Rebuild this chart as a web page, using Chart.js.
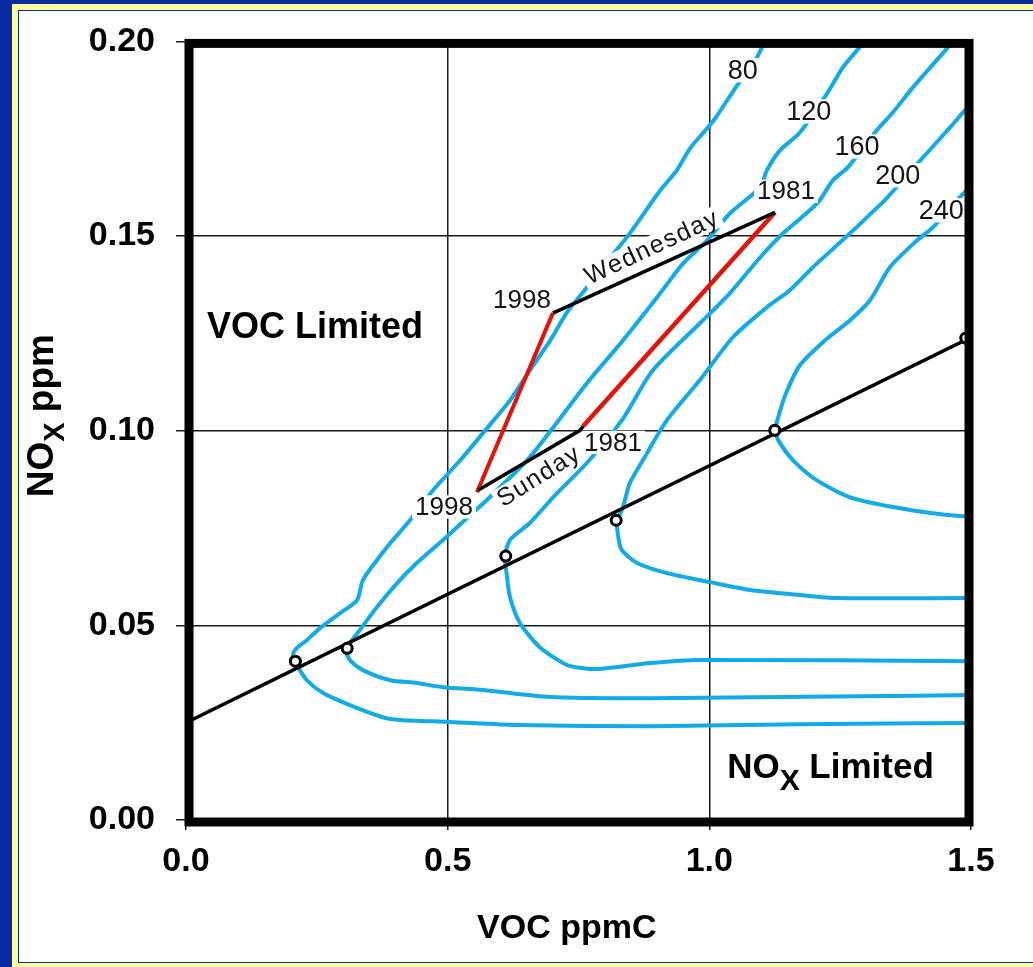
<!DOCTYPE html>
<html>
<head>
<meta charset="utf-8">
<script src="https://cdn.jsdelivr.net/npm/chart.js@4.4.1/dist/chart.umd.min.js"></script>
<style>
  html, body { margin: 0; padding: 0; background: #fff; }
  canvas { display: block; }
</style>
</head>
<body>
<canvas id="chart" width="1033" height="967"></canvas>
<script>
// tick labels
const xTickLabels = ['0.0', '0.5', '1.0', '1.5'];
const yTickLabels = ['0.00', '0.05', '0.10', '0.15', '0.20'];

// ozone isopleths [VOC ppmC, NOx ppm], lower branch (right to left) then upper branch
const contour80 = [
  [1.5, 0.0249], [1.173, 0.0246], [0.887, 0.0241], [0.6325, 0.0244], [0.5045, 0.0252], [0.409, 0.0257],
  [0.376, 0.0264], [0.313, 0.0295], [0.262, 0.0326], [0.231, 0.0359], [0.212, 0.0398], [0.2045, 0.0424],
  [0.212, 0.0442], [0.231, 0.0462], [0.256, 0.0493], [0.294, 0.0531], [0.327, 0.0565], [0.338, 0.0616],
  [0.365, 0.0668], [0.390, 0.0711], [0.428, 0.0770], [0.472, 0.0847], [0.524, 0.0924], [0.575, 0.1006],
  [0.619, 0.1078], [0.657, 0.1155], [0.696, 0.1232], [0.728, 0.1304], [0.766, 0.1368], [0.810, 0.1443],
  [0.848, 0.1507], [0.906, 0.1617], [0.938, 0.1669], [0.963, 0.1725], [0.996, 0.1777], [1.011, 0.1802],
  [1.049, 0.1879], [1.091, 0.1959], [1.106, 0.2000]
];
const contour120 = [
  [1.5, 0.0321], [1.288, 0.0318], [0.887, 0.0313], [0.696, 0.0316], [0.5675, 0.0334], [0.491, 0.0341],
  [0.441, 0.0352], [0.390, 0.0359], [0.338, 0.0385], [0.313, 0.0411], [0.3057, 0.0436],
  [0.313, 0.0454], [0.332, 0.0488], [0.365, 0.0547], [0.403, 0.0608], [0.441, 0.0660], [0.491, 0.0719],
  [0.543, 0.0783], [0.575, 0.0822], [0.657, 0.0932], [0.766, 0.1122], [0.835, 0.1232], [0.906, 0.1353],
  [0.950, 0.1430], [0.996, 0.1489], [1.039, 0.1558], [1.097, 0.1625], [1.110, 0.1669], [1.135, 0.1720],
  [1.173, 0.1766], [1.225, 0.1866], [1.255, 0.1933], [1.297, 0.2000]
];
const contour160 = [
  [1.5, 0.0408], [0.982, 0.0411], [0.887, 0.0403], [0.791, 0.0388], [0.759, 0.0390], [0.728, 0.0398],
  [0.676, 0.0444], [0.638, 0.0506], [0.619, 0.0573], [0.613, 0.0629], [0.6096, 0.0678],
  [0.619, 0.0719], [0.657, 0.0763], [0.705, 0.0834], [0.766, 0.0917], [0.833, 0.1027], [0.892, 0.1155],
  [0.982, 0.1276], [1.039, 0.1353], [1.097, 0.1445], [1.141, 0.1507], [1.192, 0.1566], [1.211, 0.1592],
  [1.236, 0.1643], [1.265, 0.1677], [1.320, 0.1772], [1.351, 0.1818], [1.389, 0.1882], [1.466, 0.2000]
];
const contour200 = [
  [1.5, 0.0570], [1.244, 0.0570], [1.173, 0.0578], [1.078, 0.0591], [1.001, 0.0611], [0.919, 0.0634],
  [0.862, 0.0660], [0.833, 0.0693], [0.827, 0.0719], [0.8236, 0.0765],
  [0.835, 0.0804], [0.848, 0.0865], [0.873, 0.0924], [0.919, 0.1027], [0.982, 0.1130], [1.045, 0.1240],
  [1.110, 0.1317], [1.154, 0.1361], [1.198, 0.1420], [1.269, 0.1507], [1.301, 0.1548], [1.340, 0.1599],
  [1.403, 0.1694], [1.460, 0.1779], [1.485, 0.1818], [1.5, 0.1841]
];
const contour240 = [
  [1.5, 0.0778], [1.427, 0.0788], [1.351, 0.0804], [1.269, 0.0829], [1.205, 0.0873], [1.160, 0.0924],
  [1.135, 0.0968], [1.1256, 0.0999],
  [1.130, 0.1027], [1.145, 0.1091], [1.173, 0.1168], [1.221, 0.1232], [1.269, 0.1284], [1.307, 0.1335],
  [1.345, 0.1420], [1.397, 0.1489], [1.427, 0.1522], [1.479, 0.1600], [1.5, 0.1628]
];

// ridge line and isopleth maxima
const ridgeLine = [[0, 0.025], [1.5, 0.124]];
const ridgePoints = [[0.209, 0.0408], [0.308, 0.0441], [0.611, 0.0678], [0.822, 0.077], [1.125, 0.1001], [1.49, 0.1238]];

// 1981 -> 1998 trajectories
const wednesdayLine = [[0.701, 0.1302], [1.1255, 0.1561]];
const sundayLine = [[0.558, 0.0847], [0.753, 0.1001], [0.759, 0.1012]];
const red1998 = [[0.556, 0.0842], [0.701, 0.1302]];
const red1981 = [[0.759, 0.1012], [1.1255, 0.1561]];

// text annotations [text, x, y]
const contourLabels = [['80', 1.064, 0.1926], ['120', 1.190, 0.1820], ['160', 1.282, 0.1730], ['200', 1.360, 0.1656], ['240', 1.443, 0.1566]];
const yearLabels = [['1981', 1.1465, 0.1615], ['1998', 0.642, 0.1335], ['1981', 0.816, 0.0970], ['1998', 0.493, 0.0804]];
const dayLabels = [['Wednesday', 0.890, 0.1472, -25], ['Sunday', 0.674, 0.0884, -32]];

const FONT = '"Liberation Sans", Arial, Helvetica, sans-serif';
const BLUE = '#12aae9';
const NAVY = '#0a2aa3';

const toPts = arr => arr.map(([x, y]) => ({ x, y }));

function contourSet(pts) {
  return { data: toPts(pts), showLine: true, borderColor: BLUE, borderWidth: 4, pointRadius: 0, tension: 0.25, order: 2 };
}
function pathSet(pts, color, width) {
  return { data: toPts(pts), showLine: true, borderColor: color, borderWidth: width, pointRadius: 0, tension: 0, order: 1, kind: 'path' };
}

const datasets = [
  contourSet(contour80), contourSet(contour120), contourSet(contour160), contourSet(contour200), contourSet(contour240),
  pathSet(ridgeLine, '#000', 3.5),
  pathSet(wednesdayLine, '#000', 3.5),
  pathSet(sundayLine, '#000', 3.5),
  pathSet(red1998, '#e3120b', 4),
  pathSet(red1981, '#e3120b', 4.5),
  {
    data: toPts(ridgePoints), showLine: false, pointRadius: 5, pointBorderWidth: 3,
    pointBorderColor: '#000', pointBackgroundColor: '#fff', order: 0, kind: 'path'
  }
];

// text on a white box so it breaks the lines behind it
function boxedText(c, text, px, py, size, deg, spacing) {
  c.save();
  c.translate(px, py);
  c.rotate((deg || 0) * Math.PI / 180);
  c.font = size + 'px ' + FONT;
  c.letterSpacing = (spacing || 0) + 'px';
  const w = c.measureText(text).width;
  c.fillStyle = '#fff';
  c.fillRect(-w / 2 - 3, -size * 0.45, w + 6, size * 0.9);
  c.fillStyle = '#141414';
  c.textAlign = 'center';
  c.textBaseline = 'middle';
  c.fillText(text, 0, 1);
  c.restore();
}

// draw a run of [text, size, dy] pieces starting at x, baseline y
function richText(c, parts, x, y) {
  parts.forEach(([t, size, dy]) => {
    c.font = 'bold ' + size + 'px ' + FONT;
    c.fillText(t, x, y + dy);
    x += c.measureText(t).width;
  });
}
function richWidth(c, parts) {
  return parts.reduce((s, [t, size]) => { c.font = 'bold ' + size + 'px ' + FONT; return s + c.measureText(t).width; }, 0);
}

const framePlugin = {
  id: 'frame',
  beforeDraw(chart) {
    const c = chart.ctx, w = chart.width, h = chart.height;
    c.save();
    c.fillStyle = NAVY; c.fillRect(0, 0, w, h);
    c.fillStyle = '#fffc9e'; c.fillRect(12, 4, w - 12, h - 4);
    c.fillStyle = NAVY; c.fillRect(18, 10, w - 18, 953);
    c.fillStyle = '#fff'; c.fillRect(19, 11, w - 19, 951);
    c.restore();
  }
};

const notesPlugin = {
  id: 'notes',
  beforeDatasetsDraw(chart) { chart.$labelsDone = false; },
  beforeDatasetDraw(chart, args) {
    if (chart.$labelsDone || chart.data.datasets[args.index].kind !== 'path') return;
    chart.$labelsDone = true;
    const c = chart.ctx, xs = chart.scales.x, ys = chart.scales.y;
    contourLabels.forEach(([t, x, y]) => boxedText(c, t, xs.getPixelForValue(x), ys.getPixelForValue(y), 27));
    yearLabels.forEach(([t, x, y]) => boxedText(c, t, xs.getPixelForValue(x), ys.getPixelForValue(y), 26));
    dayLabels.forEach(([t, x, y, a]) => boxedText(c, t, xs.getPixelForValue(x), ys.getPixelForValue(y), 25, a, 1.5));
  },
  afterDatasetsDraw(chart) {
    const c = chart.ctx, a = chart.chartArea, xs = chart.scales.x, ys = chart.scales.y;
    c.save();
    c.strokeStyle = '#000';
    c.lineWidth = 9;
    c.strokeRect(a.left + 3, a.top + 2, a.right - a.left - 5, a.bottom - a.top);

    c.fillStyle = '#000';
    c.textAlign = 'left';
    c.textBaseline = 'alphabetic';
    c.font = 'bold 36px ' + FONT;
    c.fillText('VOC Limited', xs.getPixelForValue(0.040), ys.getPixelForValue(0.1237));
    richText(c, [['NO', 35, 0], ['X', 30, 12], [' Limited', 35, 0]], xs.getPixelForValue(1.034), ys.getPixelForValue(0.0108));

    // axis titles
    c.textAlign = 'center';
    c.font = 'bold 34px ' + FONT;
    c.fillText('VOC ppmC', a.left + (a.right - a.left) * 0.485, a.bottom + 118);

    c.translate(40, (a.top + a.bottom) / 2 - 15);
    c.rotate(-Math.PI / 2);
    c.textAlign = 'left';
    const parts = [['NO', 37, 0], ['X', 29, 11], [' ppm', 37, 0]];
    richText(c, parts, -richWidth(c, parts) / 2, 13);
    c.restore();
  }
};

new Chart(document.getElementById('chart'), {
  type: 'scatter',
  data: { datasets },
  options: {
    responsive: false,
    animation: false,
    devicePixelRatio: 1,
    layout: { padding: { left: 0, top: 41, right: 62, bottom: 0 } },
    plugins: { legend: { display: false }, tooltip: { enabled: false } },
    scales: {
      x: {
        type: 'linear', min: 0, max: 1.5,
        afterBuildTicks: s => { s.ticks = xTickLabels.map(v => ({ value: Number(v) })); },
        afterFit: s => { s.height = 147; },
        ticks: { callback: (v, i) => xTickLabels[i], color: '#000', padding: 11, maxRotation: 0, font: { family: FONT, size: 34, weight: 'bold' } },
        grid: { color: '#1a1a1a', lineWidth: 1.5, tickLength: 10, tickColor: '#1a1a1a' },
        border: { display: false }
      },
      y: {
        type: 'linear', min: 0, max: 0.2,
        afterBuildTicks: s => { s.ticks = yTickLabels.map(v => ({ value: Number(v) })); },
        afterFit: s => { s.width = 186; },
        ticks: { callback: (v, i) => yTickLabels[i], color: '#000', padding: 21, font: { family: FONT, size: 34, weight: 'bold' } },
        grid: { color: '#1a1a1a', lineWidth: 1.5, tickLength: 10, tickColor: '#1a1a1a' },
        border: { display: false }
      }
    }
  },
  plugins: [framePlugin, notesPlugin]
});
</script>
</body>
</html>
